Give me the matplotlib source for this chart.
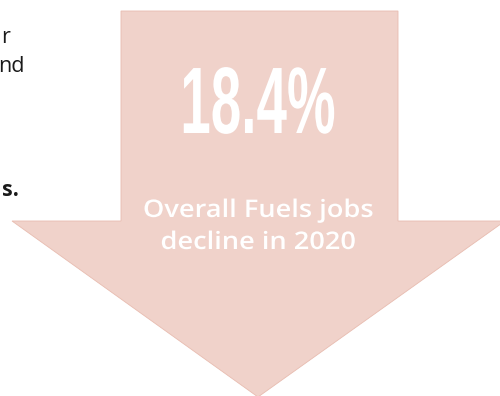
import matplotlib.pyplot as plt
from matplotlib.patches import Polygon
from matplotlib.patheffects import AbstractPathEffect
from matplotlib.transforms import Affine2D

# figure values
decline_pct = 18.4
caption_lines = ["Overall Fuels jobs", "decline in 2020"]
side_fragments = ["r", "nd", "s."]


class StretchX(AbstractPathEffect):
    """Squeeze/widen glyphs horizontally about a fixed display x."""

    def __init__(self, cx, sx):
        super().__init__()
        self.cx, self.sx = cx, sx

    def draw_path(self, renderer, gc, tpath, affine, rgbFace=None):
        cx = self.cx()
        t = affine + Affine2D().translate(-cx, 0).scale(self.sx, 1).translate(cx, 0)
        renderer.draw_path(gc, tpath, t, rgbFace)


W, H = 500, 396
fig = plt.figure(figsize=(W / 100, H / 100), dpi=100)
ax = fig.add_axes([0, 0, 1, 1])
ax.set_xlim(0, W)
ax.set_ylim(H, 0)
ax.axis("off")

# down arrow: shaft + head (pixel units)
shaft_l, shaft_r, shaft_top = 121, 398, 11
head_l, head_r, head_y = 12, 505, 221
tip_x, tip_y = 258, 397
arrow = Polygon(
    [(shaft_l, shaft_top), (shaft_r, shaft_top), (shaft_r, head_y),
     (head_r, head_y), (tip_x, tip_y), (head_l, head_y), (shaft_l, head_y)],
    closed=True, facecolor="#f0d2ca", edgecolor="#e8bcb0", linewidth=0.6)
ax.add_patch(arrow)

center_x = 258


def disp_cx():
    return ax.transData.transform((center_x, 0))[0]


ax.text(center_x, 133, f"{decline_pct}%", ha="center", va="baseline",
        fontsize=68, fontweight="bold", color="white",
        family="Liberation Sans",
        path_effects=[StretchX(disp_cx, 0.58)])

for i, line in enumerate(caption_lines):
    ax.text(center_x, 217 + i * 32, line, ha="center", va="baseline",
            fontsize=17.5, fontweight="semibold", color="white",
            family="Open Sans",
            path_effects=[StretchX(disp_cx, 1.12)])

# clipped paragraph text on the left
ax.text(10, 43, side_fragments[0], ha="right", va="baseline",
        fontsize=15.5, color="#1a1a1a", family="Open Sans")
ax.text(25, 72, side_fragments[1], ha="right", va="baseline",
        fontsize=15.5, color="#1a1a1a", family="Open Sans")
ax.text(19, 196, side_fragments[2], ha="right", va="baseline",
        fontsize=15.5, fontweight="bold", color="#1a1a1a", family="Open Sans")

fig.savefig("out.png", dpi=100)
